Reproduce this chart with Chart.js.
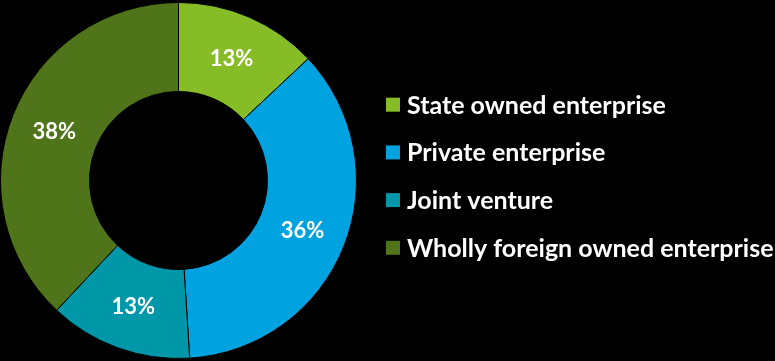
<!DOCTYPE html>
<html>
<head>
<meta charset="utf-8">
<script src="https://cdn.jsdelivr.net/npm/chart.js@4/dist/chart.umd.min.js"></script>
<style>
  html, body { margin: 0; padding: 0; background: #000; }
  #wrap { position: relative; width: 775px; height: 361px; }
</style>
</head>
<body>
<div id="wrap"><canvas id="c" width="775" height="361"></canvas></div>
<script>
const categories = ['State owned enterprise', 'Private enterprise', 'Joint venture', 'Wholly foreign owned enterprise'];
const shares = [13, 36, 13, 38];
const sliceColors = ['#86BC25', '#00A3E0', '#0097A9', '#507419'];

const FONT = 'Lato, "Open Sans", sans-serif';

// Percentage labels placed at the centre of each ring segment
const sliceLabels = {
  id: 'sliceLabels',
  afterDatasetsDraw(chart) {
    const ctx = chart.ctx;
    const meta = chart.getDatasetMeta(0);
    ctx.save();
    ctx.fillStyle = '#fff';
    ctx.font = 'bold 22px ' + FONT;
    ctx.textAlign = 'center';
    ctx.textBaseline = 'middle';
    meta.data.forEach((arc, i) => {
      const p = arc.getCenterPoint();
      ctx.fillText(shares[i] + '%', p.x, p.y + 1);
    });
    ctx.restore();
  }
};

// Legend list to the right of the ring
const sideLegend = {
  id: 'sideLegend',
  afterDraw(chart) {
    const ctx = chart.ctx;
    const x0 = 386, box = 14, gap = 7, yStart = 104.7, step = 47.7;
    ctx.save();
    ctx.font = 'bold 25px ' + FONT;
    ctx.textBaseline = 'middle';
    ctx.textAlign = 'left';
    categories.forEach((name, i) => {
      const y = yStart + i * step;
      ctx.fillStyle = sliceColors[i];
      ctx.fillRect(x0, y - box / 2, box, box);
      ctx.fillStyle = '#fff';
      ctx.fillText(name, x0 + box + gap, y + 1);
    });
    ctx.restore();
  }
};

new Chart(document.getElementById('c'), {
  type: 'doughnut',
  data: {
    labels: categories,
    datasets: [{
      data: shares,
      backgroundColor: sliceColors,
      borderColor: '#000',
      borderWidth: 1
    }]
  },
  options: {
    responsive: false,
    animation: false,
    cutout: '50%',
    layout: { padding: { left: 0, top: 1, bottom: 1, right: 418 } },
    plugins: {
      legend: { display: false },
      tooltip: { enabled: false }
    }
  },
  plugins: [sliceLabels, sideLegend]
});
</script>
</body>
</html>
